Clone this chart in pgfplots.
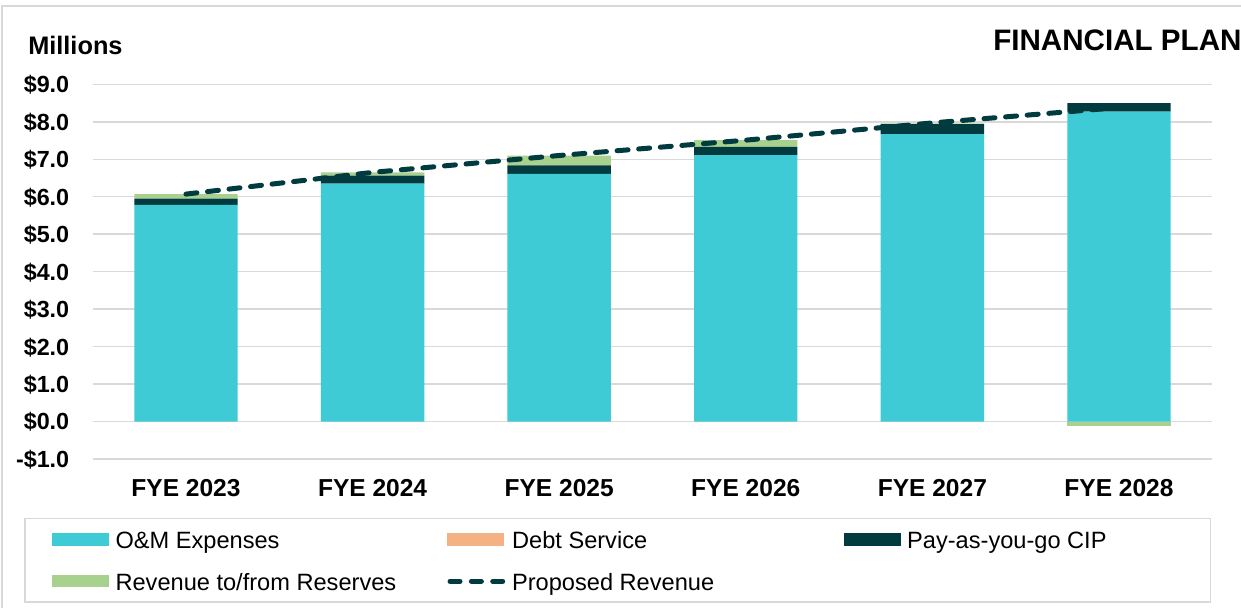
\documentclass[border=0pt]{standalone}
\usepackage{fontspec}
\setmainfont{Liberation Sans}
\usepackage{pgfplots}
\pgfplotsset{compat=1.18}

\definecolor{omc}{HTML}{3ECBD5}
\definecolor{debtc}{HTML}{F4B183}
\definecolor{cipc}{HTML}{023B3F}
\definecolor{resc}{HTML}{A9D18E}
\definecolor{linec}{HTML}{003B3F}
\definecolor{gridc}{HTML}{D9D9D9}

% common geometry for both overlaid axes
\pgfplotsset{
  finplan/.style={
    scale only axis,
    width=839.7pt, height=281pt,
    at={(69.5pt,111.75pt)}, anchor=south west,
    xmin=-0.5, xmax=5.5,
    ymin=-1, ymax=9,
    bar width=0.554,
  },
  barleg/.style={legend image code/.code={\fill[##1] (0pt,-4.6pt) rectangle (42.75pt,4.6pt);}},
  revleg/.style={legend image code/.code={\draw[##1] (2pt,0pt) -- (42pt,0pt);}},
}

\begin{document}
\begin{tikzpicture}
\useasboundingbox[fill=white] (0,0) rectangle (930.75pt,456pt);
% outer frame (top and left edges visible)
\draw[gridc, line width=1.5pt] (1.5pt,0pt) -- (1.5pt,451.5pt) -- (930.75pt,451.5pt);

\begin{axis}[
  finplan,
  ybar stacked,
  axis line style={draw=none},
  major tick length=0pt,
  ymajorgrids,
  major grid style={gridc, line width=1.1pt},
  xtick={0,1,2,3,4,5},
  xticklabels={FYE 2023,FYE 2024,FYE 2025,FYE 2026,FYE 2027,FYE 2028},
  xticklabel style={font=\bfseries\fontsize{18.4}{20}\selectfont, anchor=base, inner sep=0pt, yshift=-28.3pt},
  ytick={-1,0,1,2,3,4,5,6,7,8,9},
  yticklabels={-\$1.0,\$0.0,\$1.0,\$2.0,\$3.0,\$4.0,\$5.0,\$6.0,\$7.0,\$8.0,\$9.0},
  yticklabel style={font=\bfseries\fontsize{17.5}{20}\selectfont, anchor=base east, inner sep=0pt, xshift=-17.4pt, yshift=-6.3pt},
  legend columns=3,
  legend cell align=left,
  legend style={
    at={(-0.0613,-0.1568)}, anchor=north west,
    draw=gridc, line width=1.2pt,
    font=\fontsize{17.7}{20}\selectfont,
    inner xsep=20.6pt, inner ysep=8.7pt,
    row sep=17.2pt,
    nodes={inner sep=0pt, text height=14.1pt, text depth=0pt},
    /tikz/every odd column/.append style={column sep=4.7pt},
    /tikz/every even column/.append style={column sep=41.85pt},
  },
]
\addplot[fill=omc, draw=none, barleg] coordinates {(0,5.78) (1,6.35) (2,6.61) (3,7.11) (4,7.67) (5,8.27)};
\addlegendentry{\makebox[207pt][l]{O\&M Expenses}}
\addplot[fill=debtc, draw=none, barleg] coordinates {(0,0) (1,0) (2,0) (3,0) (4,0) (5,0)};
\addlegendentry{\makebox[207pt][l]{Debt Service}}
\addplot[fill=cipc, draw=none, barleg] coordinates {(0,0.17) (1,0.21) (2,0.23) (3,0.22) (4,0.27) (5,0.23)};
\addlegendentry{\makebox[207pt][l]{Pay-as-you-go CIP}}
\addplot[fill=resc, draw=none, barleg] coordinates {(0,0.12) (1,0.09) (2,0.26) (3,0.18) (4,0.02) (5,0)};
\addlegendentry{\makebox[207pt][l]{Revenue to/from Reserves}}
\addlegendimage{linec, line width=3.75pt, line cap=round, dash pattern=on 7.5pt off 8.5pt, revleg}
\addlegendentry{\makebox[207pt][l]{Proposed Revenue}}
\end{axis}

% negative reserves part and the revenue line, same geometry
\begin{axis}[finplan, hide axis, ybar, bar shift=0pt]
\addplot[fill=resc, draw=none] coordinates {(5,-0.12)};
\addplot[sharp plot, linec, line width=3.75pt, line cap=round, dash pattern=on 8.25pt off 8pt]
  coordinates {(0,6.07) (1,6.65) (2,7.10) (3,7.51) (4,7.97) (5,8.38)};
\end{axis}

\node[anchor=base west, inner sep=0pt, font=\bfseries\fontsize{19}{22}\selectfont] at (21pt,414.75pt) {Millions};
\begin{scope}
\clip (0,0) rectangle (930.75pt,456pt);
\node[anchor=base west, inner sep=0pt, font=\bfseries\fontsize{22.2}{24}\selectfont] at (744.75pt,417.75pt) {FINANCIAL PLAN};
\end{scope}
\end{tikzpicture}
\end{document}
